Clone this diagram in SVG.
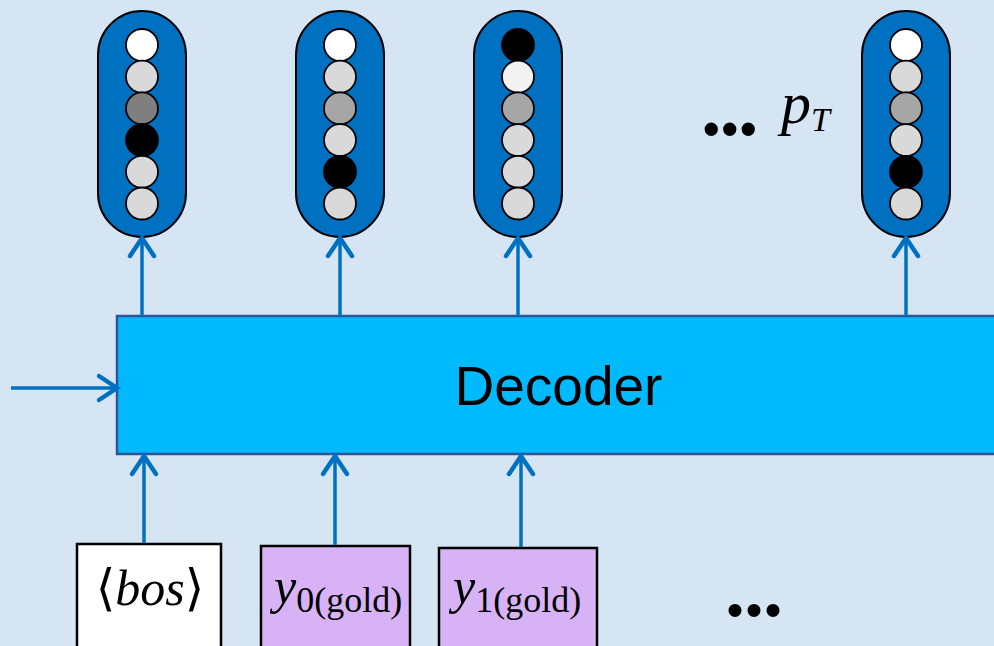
<svg xmlns="http://www.w3.org/2000/svg" width="994" height="646" viewBox="0 0 994 646">
<style>
.pill{fill:#0070C0;stroke:#000;stroke-width:2}
.c{stroke:#000;stroke-width:1.8}
.w{fill:#FFFFFF}.l{fill:#D9D9D9}.g{fill:#A6A6A6}.d{fill:#7F7F7F}.k{fill:#000000}.x{fill:#F2F2F2}
.conn{stroke:#0070C0;stroke-width:3.5;fill:none;marker-end:url(#ah)}
.box{stroke:#000;stroke-width:2.5}
.math{font-family:"Liberation Serif","DejaVu Serif",serif;fill:#000}
.dots{font-family:"Liberation Serif","DejaVu Serif",serif;font-weight:bold;fill:#000}
</style>
<defs>
<marker id="ah" markerUnits="userSpaceOnUse" markerWidth="40" markerHeight="40" refX="0" refY="0" orient="auto" overflow="visible">
<path d="M-18,-12 L0,0 L-18,12" fill="none" stroke="#0070C0" stroke-width="4.5" stroke-linecap="round" stroke-linejoin="miter"/>
</marker>
</defs>
<rect width="994" height="646" fill="#D6E5F4"/>

<g id="p1">
<rect class="pill" x="98" y="11" width="88" height="226" rx="44" ry="44"/>
<circle class="c w" cx="142" cy="45" r="16"/>
<circle class="c l" cx="142" cy="76.7" r="16"/>
<circle class="c d" cx="142" cy="108.4" r="16"/>
<circle class="c k" cx="142" cy="140.1" r="16"/>
<circle class="c l" cx="142" cy="171.8" r="16"/>
<circle class="c l" cx="142" cy="203.5" r="16"/>
</g>
<g id="p2">
<rect class="pill" x="296" y="11" width="88" height="226" rx="44" ry="44"/>
<circle class="c w" cx="340" cy="45" r="16"/>
<circle class="c l" cx="340" cy="76.7" r="16"/>
<circle class="c g" cx="340" cy="108.4" r="16"/>
<circle class="c l" cx="340" cy="140.1" r="16"/>
<circle class="c k" cx="340" cy="171.8" r="16"/>
<circle class="c l" cx="340" cy="203.5" r="16"/>
</g>
<g id="p3">
<rect class="pill" x="474" y="11" width="88" height="226" rx="44" ry="44"/>
<circle class="c k" cx="518" cy="45" r="16"/>
<circle class="c x" cx="518" cy="76.7" r="16"/>
<circle class="c g" cx="518" cy="108.4" r="16"/>
<circle class="c l" cx="518" cy="140.1" r="16"/>
<circle class="c l" cx="518" cy="171.8" r="16"/>
<circle class="c l" cx="518" cy="203.5" r="16"/>
</g>
<g id="p4">
<rect class="pill" x="862" y="11" width="88" height="226" rx="44" ry="44"/>
<circle class="c w" cx="906" cy="45" r="16"/>
<circle class="c l" cx="906" cy="76.7" r="16"/>
<circle class="c g" cx="906" cy="108.4" r="16"/>
<circle class="c l" cx="906" cy="140.1" r="16"/>
<circle class="c k" cx="906" cy="171.8" r="16"/>
<circle class="c l" cx="906" cy="203.5" r="16"/>
</g>

<g id="top-dots">
<text class="dots" x="701" y="135" font-size="82" letter-spacing="-2">...</text>
</g>
<g id="pT">
<text class="math" x="781" y="123" font-size="60" font-style="italic">p<tspan font-size="34" dy="8">T</tspan></text>
</g>

<g id="decoder">
<rect x="117" y="316" width="890" height="138" fill="#00BAFF" stroke="#2F5597" stroke-width="2.5"/>
<text x="558.5" y="405" font-size="55" text-anchor="middle" font-family="Liberation Sans, Arial, sans-serif" fill="#000">Decoder</text>
</g>

<g id="bos">
<rect class="box" x="77" y="544" width="144" height="110" fill="#FFFFFF"/>
<text class="math" x="150" y="605" font-size="50" text-anchor="middle"><tspan font-family="DejaVu Serif" font-weight="normal">⟨</tspan><tspan font-style="italic">bos</tspan><tspan font-family="DejaVu Serif">⟩</tspan></text>
</g>
<g id="y0">
<rect class="box" x="261" y="546" width="149" height="110" fill="#D7B3F6"/>
<text class="math" x="274" y="603" font-size="50"><tspan font-style="italic">y</tspan><tspan font-size="36" dy="9">0(gold)</tspan></text>
</g>
<g id="y1">
<rect class="box" x="439" y="548" width="158" height="110" fill="#D7B3F6"/>
<text class="math" x="453" y="603" font-size="50"><tspan font-style="italic">y</tspan><tspan font-size="36" dy="9">1(gold)</tspan></text>
</g>
<g id="bottom-dots">
<text class="dots" x="725" y="616" font-size="80" letter-spacing="-1">...</text>
</g>

<g id="connectors">
<line class="conn" x1="142" y1="316" x2="142" y2="238"/>
<line class="conn" x1="340" y1="316" x2="340" y2="238"/>
<line class="conn" x1="518" y1="316" x2="518" y2="238"/>
<line class="conn" x1="906" y1="316" x2="906" y2="238"/>
<line class="conn" x1="11" y1="388" x2="117" y2="388"/>
<line class="conn" x1="144" y1="543" x2="144" y2="456"/>
<line class="conn" x1="335" y1="545" x2="335" y2="456"/>
<line class="conn" x1="521" y1="547" x2="521" y2="456"/>
</g>
</svg>
